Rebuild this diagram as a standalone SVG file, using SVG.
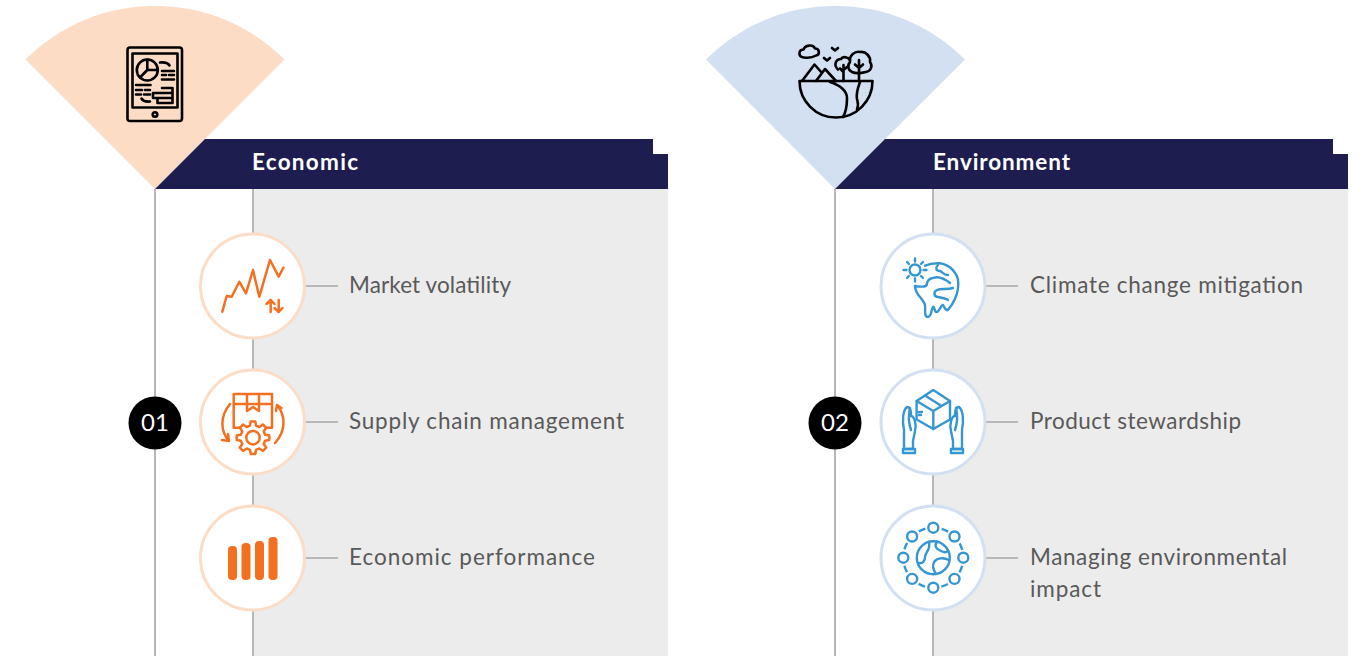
<svg xmlns="http://www.w3.org/2000/svg" width="1366" height="656" viewBox="0 0 1366 656">
<style>
text{font-family:"Lato","Liberation Sans",sans-serif}
.lbl{font-size:22.5px;fill:#595959}
.hd{font-size:22.5px;font-weight:700;fill:#fff}
.num{font-size:24px;fill:#fff;text-anchor:middle}
.rail{stroke:#b7b7b7;stroke-width:2;fill:none}
.tick{stroke:#a6a6a6;stroke-width:1.5;fill:none}
.cE{fill:#fff;stroke:#fddcc5;stroke-width:3}
.cV{fill:#fff;stroke:#d3e0f2;stroke-width:3}
.ik{fill:none;stroke:#000;stroke-width:2.6;stroke-linecap:round;stroke-linejoin:round}
.or{fill:none;stroke:#f37021;stroke-width:2.500;stroke-linecap:round;stroke-linejoin:round}
.bl{fill:none;stroke:#3496d3;stroke-width:2.400;stroke-linecap:round;stroke-linejoin:round}
</style>
<defs>
<path id="hdr" d="M205 139H653V154H668V189H155Z" fill="#1e1d50"/>
</defs>

<g id="panels">
<rect x="253" y="189" width="415" height="467" fill="#ececec"/>
<rect x="933" y="189" width="415" height="467" fill="#ececec"/>
</g>

<g id="connectors">
<path class="rail" d="M155 189V656M253 189V656M835 189V656M933 189V656"/>
<path class="tick" d="M306 286H338M306 422H338M306 558H338M986 286H1018M986 422H1018M986 558H1018"/>
</g>

<g id="economic-header">
<path d="M155 189L25.500 59.500A183 183 0 0 1 284.500 59.500Z" fill="#fddcc5"/>
<use href="#hdr"/>
<text class="hd" x="252" y="170" textLength="106">Economic</text>
<g class="ik">
<rect x="127.500" y="47.500" width="54.500" height="73.500" rx="2.500"/>
<rect x="132.500" y="53.500" width="45" height="54"/>
<circle cx="155" cy="114.500" r="2.300"/>
<circle cx="147.300" cy="70" r="10.500"/>
<path d="M147.300 59.500V70H157.800M147.300 70L140 77.500"/>
<path d="M160 62.500C165 62 168 63 169.500 65.500M162 71H174M162 75H166M169 75H174M162 79.500H174"/>
<path d="M136 85H150.500M136 90H142M145 90H150M136 94.500H141M144 94.500H150M141.500 98.500C143 101 146 102 150 101.500"/>
<path d="M153 93H172.500V98H153ZM162 88H172.500V93M157.500 98V103H172.500V98"/>
</g>
</g>

<g id="environment-header">
<path d="M835 189L706 59.500A183 183 0 0 1 965 59.500Z" fill="#d3e0f2"/>
<use href="#hdr" x="680"/>
<text class="hd" x="933" y="170" textLength="137">Environment</text>
<g class="ik">
<path d="M799.500 81H872.500M799.500 81A36.500 36.500 0 0 0 872.500 81"/>
<path d="M802 81L814.500 64.500L822 73M816 81L825 69L836 81"/>
<path d="M804 57.500C798 57 798 50 803.500 49.500C805 45 813 44 815 48.500C820 48.500 820 55 816 55.500C812 58 808 58 804 57.500Z"/>
<path d="M832 48L835 50.500L838 48M824 58L827 60.500L830 58"/>
<path d="M843.500 81V65M843.500 72L840 68.500M843.500 70L847 67"/>
<path d="M838 69.500C833 65 836 59 841 59C843 56 848 57 850 60"/>
<path d="M859 81V60M859 68L855 64.500M859 68L863 64.500"/>
<path d="M852 72C847 70 848 64 850 62C849 55 855 51 860 52C866 51 871 57 870 62C873 66 871 71 866 72C862 73 856 74 852 72Z"/>
<path d="M830 82C840 85 847 91 847 98C847 106 846 112 843 117M860 82C857 90 856 94 857 99C858 103 859 105 857 109"/>
</g>
</g>

<g id="n-market">
<circle class="cE" cx="252.500" cy="286" r="52"/>
<g class="or">
<path d="M222.300 311.700L226.700 296L231.700 296.700L239.300 281.700L246 293.300L253 270L259.300 296.700L270 260L278.700 276.700L283.300 267.700"/>
<path d="M270.700 312V300M266.500 304L270.700 300L274.500 304M278.700 300V312M274.500 308L278.700 312L282.500 308"/>
</g>
<text class="lbl" x="349" y="293" textLength="162">Market volatility</text>
</g>

<g id="n-supply">
<circle class="cE" cx="252.500" cy="422" r="52"/>
<g class="or">
<path d="M233.700 427.700V394H272V427.700H233.700M233.700 404H272M247 394V411L253 407L259 411V394"/>
<path d="M230 404C220 416 220 431 229 441M229 441L228 434M229 441L222 440"/>
<path d="M277 405C286 416 286 431 275 443M277 405L276 411M277 405L281.500 408"/>
<polygon fill="#fff" transform="translate(253 437.700)" points="6.400,-10.700 9.900,-13.200 13.200,-9.900 10.700,-6.400 12.100,-3 16.300,-2.300 16.300,2.300 12.100,3 10.700,6.400 13.200,9.900 9.900,13.200 6.400,10.700 3,12.100 2.300,16.300 -2.300,16.300 -3,12.100 -6.400,10.700 -9.900,13.200 -13.200,9.900 -10.700,6.400 -12.100,3 -16.300,2.300 -16.300,-2.300 -12.100,-3 -10.700,-6.400 -13.200,-9.900 -9.900,-13.200 -6.400,-10.700 -3,-12.100 -2.300,-16.300 2.300,-16.300 3,-12.100"/>
<circle cx="253" cy="437.700" r="6.700"/>
</g>
<text class="lbl" x="349" y="429" textLength="275">Supply chain management</text>
</g>

<g id="n-performance">
<circle class="cE" cx="252.500" cy="558" r="52"/>
<g fill="#f37021">
<rect x="228" y="546" width="9" height="34" rx="4"/>
<rect x="241.500" y="543" width="9" height="37" rx="4"/>
<rect x="255" y="541" width="9" height="39" rx="4"/>
<rect x="268.500" y="537" width="9" height="43" rx="4"/>
</g>
<text class="lbl" x="349" y="565" textLength="246">Economic performance</text>
</g>

<g id="n-climate">
<circle class="cV" cx="933" cy="286" r="52"/>
<g class="bl">
<circle cx="915" cy="270" r="5.500"/>
<path d="M915 258.500V261.500M915 278.500V281.500M903.500 270H906.500M923.500 270H926.500M907 262L909 264M921 276L923 278M907 278L909 276M921 264L923 262"/>
<path d="M925 265.700C930 263.500 935 263 940 263.300C950 265 958.300 273 958.300 283.300C958.300 293 955 300 951.700 305C949 308 948 311 946.700 310C944 309 944 305 942.700 305C941 305 939 312 936.700 312C934 312 935 306.700 933.300 306.700C931.500 306.700 932 316.700 928 317C924 317 925.500 311 925 305C923 298 915 295 915 286"/>
<path d="M915 286C919 287 926 287 926.700 285C927 281 929 278.500 933 278C938 276 945 279 950 283"/>
<path d="M938 265C935 268 936 271 940 271C943 272 943 275 948 275"/>
<path d="M953 288C947 290 941 288 937 290C933 292 934 297 938 297C942 298 946 298 948 300"/>
</g>
<text class="lbl" x="1030" y="293" textLength="273">Climate change mitigation</text>
</g>

<g id="n-product">
<circle class="cV" cx="933" cy="422" r="52"/>
<g class="bl">
<path d="M933.300 390L950 401V419.500L933.300 429L916.600 419.500V401Z"/>
<path d="M916.600 401L933.300 411L950 401M933.300 411V429M925 395.500L941.500 406"/>
<path d="M919 412H922M919 415H921"/>
<path d="M904 449V430C902 420 903 410 907 407C911 407 911 412 911 416C914 416 917 424 915 431L913 441V449Z"/>
<path d="M903 449H915V453H903ZM910 408C908 416 909 424 911 430"/>
<path d="M962 449V430C964 420 963 410 959 407C955 407 955 412 955 416C952 416 949 424 951 431L953 441V449Z"/>
<path d="M951 449H963V453H951ZM956 408C958 416 957 424 955 430"/>
</g>
<text class="lbl" x="1030" y="429" textLength="211">Product stewardship</text>
</g>

<g id="n-impact">
<circle class="cV" cx="933" cy="558" r="52"/>
<g class="bl">
<circle cx="933.300" cy="557.700" r="30" stroke-dasharray="7 16.560" stroke-dashoffset="-8.280" stroke-linecap="butt"/>
<circle cx="933.300" cy="527.700" r="5"/><circle cx="954.500" cy="536.500" r="5"/>
<circle cx="963.300" cy="557.700" r="5"/><circle cx="954.500" cy="578.900" r="5"/>
<circle cx="933.300" cy="587.700" r="5"/><circle cx="912.100" cy="578.900" r="5"/>
<circle cx="903.300" cy="557.700" r="5"/><circle cx="912.100" cy="536.500" r="5"/>
<circle cx="933.300" cy="557.700" r="16.500"/>
<path d="M929 542C931 550 925 552 925 557C925 561 923 564 918 563"/>
<path d="M937 541.500C934 546 936 549 941 551C945 553 947 552 948 551"/>
<path d="M949 560C943 557 937 558 934 562C932 566 934 571 936 574"/>
</g>
<text class="lbl" x="1030" y="565" textLength="257">Managing environmental</text>
<text class="lbl" x="1030" y="597" textLength="71">impact</text>
</g>

<g id="b-01"><circle cx="155" cy="423" r="26.500" fill="#000"/><text class="num" x="155" y="431">01</text></g>
<g id="b-02"><circle cx="835" cy="423" r="26.500" fill="#000"/><text class="num" x="835" y="431">02</text></g>
</svg>
